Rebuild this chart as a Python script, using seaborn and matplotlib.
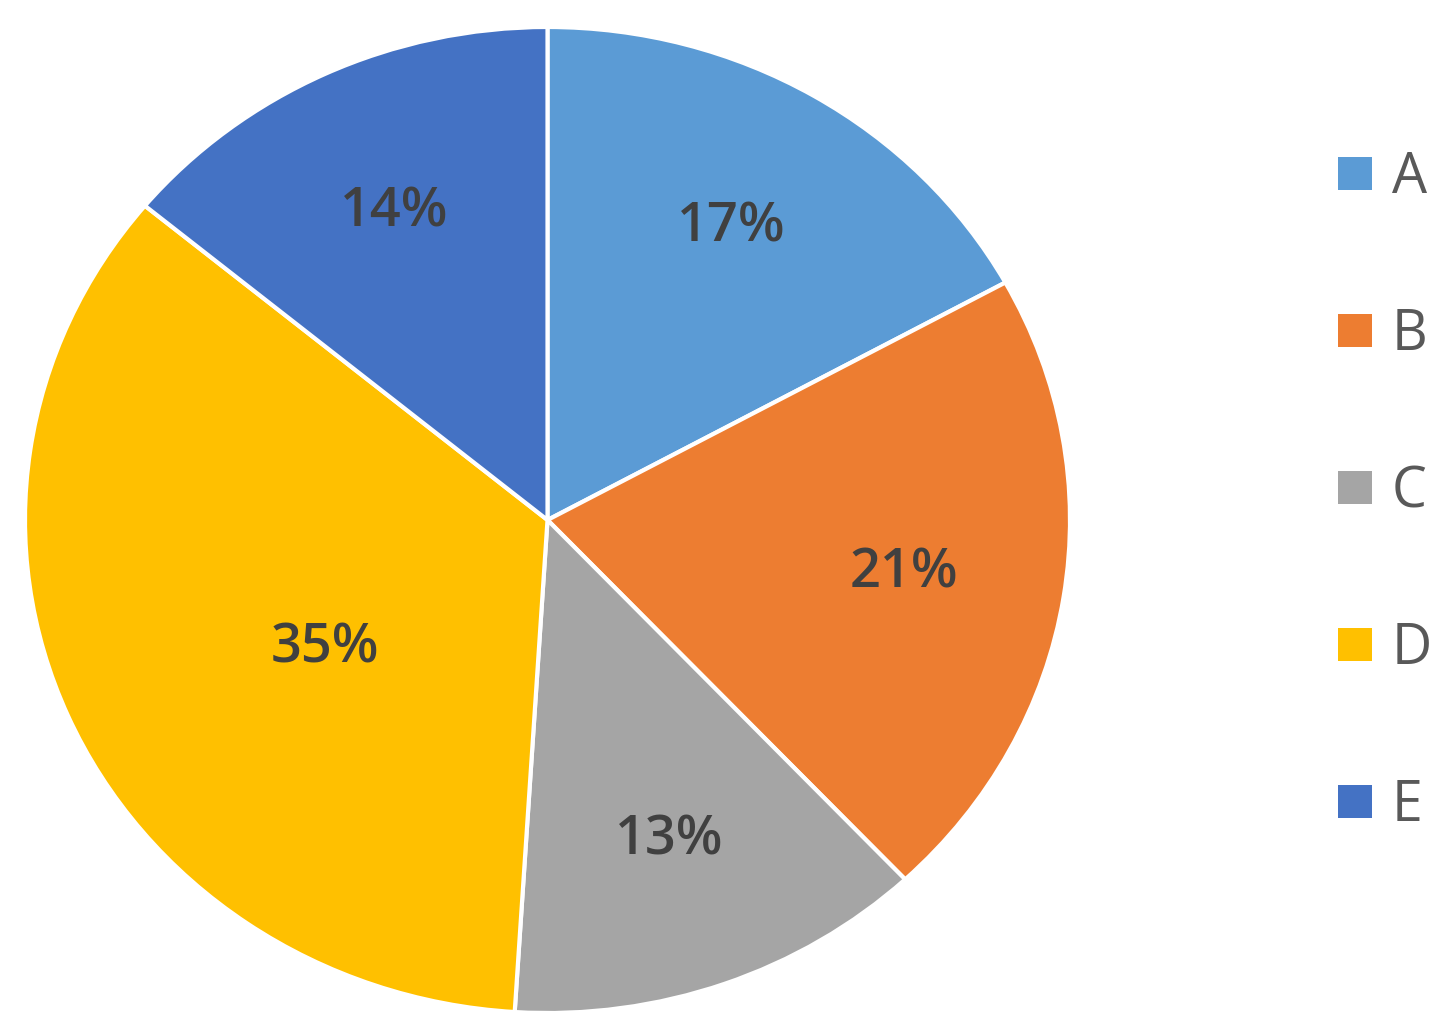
import matplotlib
matplotlib.use("Agg")
import numpy as np
import matplotlib.pyplot as plt
import seaborn as sns

# data
categories = ["A", "B", "C", "D", "E"]
shares = [17, 21, 13, 35, 14]
colors = ["#5B9BD5", "#ED7D31", "#A5A5A5", "#FFC000", "#4472C4"]

sns.set_theme(style="white")
plt.rcParams["font.family"] = ["Open Sans", "DejaVu Sans"]

fig = plt.figure(figsize=(14.55, 10.31), dpi=100)
ax = fig.add_axes([25 / 1455, 18 / 1031, 1045 / 1455, 986 / 1031])

wedges, texts, autotexts = ax.pie(
    shares,
    colors=colors,
    startangle=90,
    counterclock=False,
    autopct="%1.0f%%",
    pctdistance=0.69,
    wedgeprops=dict(edgecolor="white", linewidth=3),
    textprops=dict(color="#404040", fontsize=39, fontweight="semibold"),
)
# the big slice gets its label pulled closer to the centre
w = wedges[3]
mid = np.deg2rad((w.theta1 + w.theta2) / 2 + 8)
autotexts[3].set_position((0.5 * np.cos(mid), 0.5 * np.sin(mid)))

ax.set_aspect("auto")
ax.set_xlim(-1, 1)
ax.set_ylim(-1, 1)
ax.axis("off")

leg = fig.legend(
    wedges, categories,
    loc="center left", bbox_to_anchor=(0.9196, 0.522),
    frameon=False, fontsize=40,
    handlelength=0.61, handleheight=0.54, handletextpad=0.36,
    labelspacing=1.8, borderpad=0, borderaxespad=0,
)
for t in leg.get_texts():
    t.set_color("#595959")
for h in leg.legend_handles:
    h.set_edgecolor("none")

fig.savefig("out.png", dpi=100)
